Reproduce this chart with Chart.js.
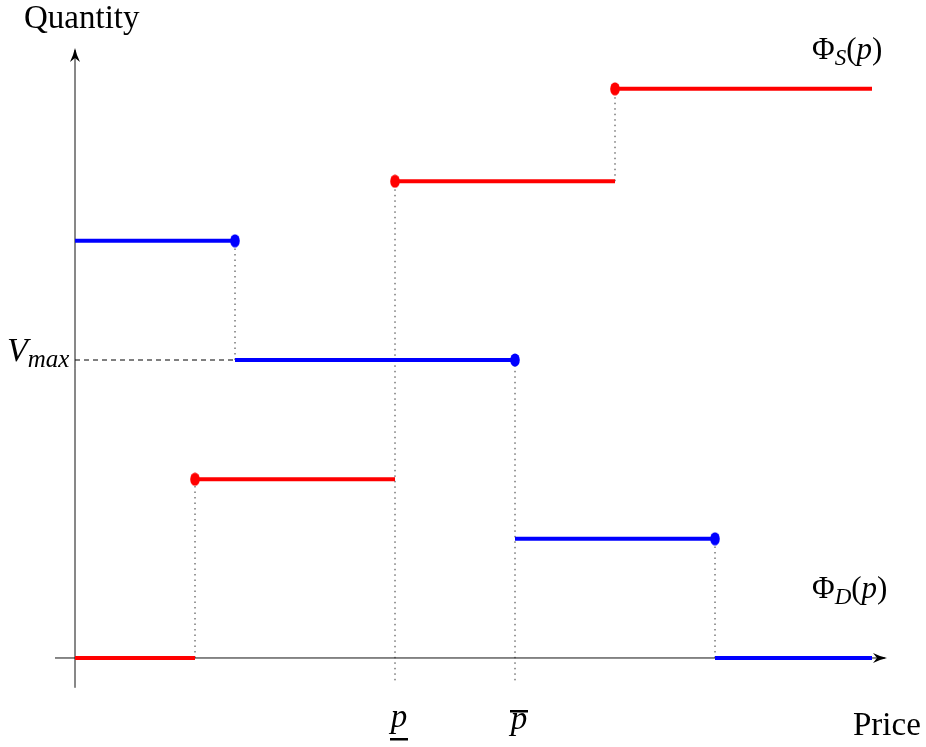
<!DOCTYPE html>
<html lang="en">
<head>
<meta charset="UTF-8">
<title>Supply and demand step functions</title>
<style>
  body { margin: 0; background: #fff; }
  #wrap { width: 926px; height: 747px; }
</style>
</head>
<body>
<div id="wrap"><canvas id="chart" width="926" height="747"></canvas></div>
<script src="https://cdn.jsdelivr.net/npm/chart.js"></script>
<script>
// supply Phi_S(p): breakpoints on the price axis and the quantity held on each step
const supplyPrices = [0, 6, 16, 27, 39.85];
const supplyQty = [0, 6, 16, 19.1];
// demand Phi_D(p)
const demandPrices = [0, 8, 22, 32, 39.85];
const demandQty = [14, 10, 4, 0];
// marked prices and V_max
const pLow = 16;
const pHigh = 22;
const vMax = 10;

const RED = '#ff0000';
const BLUE = '#0000ff';

const datasets = [];

// thin guide lines first so they lie under the steps
function guide(x0, y0, x1, y1, dash, color) {
  datasets.push({
    type: 'line', data: [{x: x0, y: y0}, {x: x1, y: y1}],
    borderColor: color, borderWidth: 1, borderDash: dash,
    pointRadius: 0, fill: false, tension: 0, order: 5
  });
}

// axes
guide(-1, 0, 40.5, 0, [], '#111');
guide(0, -1, 0, 20.4, [], '#111');

// dotted verticals at the supply jumps
for (let i = 1; i < supplyQty.length; i++) {
  const x = supplyPrices[i];
  let lo = supplyQty[i - 1];
  if (x === pLow) lo = -0.75;
  guide(x, lo, x, supplyQty[i], [1.5, 4], '#333');
}
// dotted verticals at the demand jumps
for (let i = 1; i < demandQty.length; i++) {
  const x = demandPrices[i];
  let lo = demandQty[i];
  if (x === pHigh) lo = -0.75;
  guide(x, lo, x, demandQty[i - 1], [1.5, 4], '#333');
}
// dashed V_max line
guide(0, vMax, demandPrices[1], vMax, [5, 4], '#000');

// step segments
function steps(prices, qty, color) {
  for (let i = 0; i < qty.length; i++) {
    datasets.push({
      type: 'line', data: [{x: prices[i], y: qty[i]}, {x: prices[i + 1], y: qty[i]}],
      borderColor: color, borderWidth: 4, pointRadius: 0, fill: false, order: 2
    });
  }
}
steps(supplyPrices, supplyQty, RED);
steps(demandPrices, demandQty, BLUE);

// dots: supply closed on the left end of each step, demand on the right end
const supplyDots = [];
for (let i = 1; i < supplyQty.length; i++) supplyDots.push({x: supplyPrices[i], y: supplyQty[i]});
const demandDots = [];
for (let i = 0; i < demandQty.length - 1; i++) demandDots.push({x: demandPrices[i + 1], y: demandQty[i]});

// the dots in the picture are slightly taller than wide
function ovalDot(color) {
  const c = document.createElement('canvas');
  c.width = 12; c.height = 14;
  const g = c.getContext('2d');
  g.fillStyle = color;
  g.beginPath();
  g.ellipse(6, 7, 4.8, 6.6, 0, 0, Math.PI * 2);
  g.fill();
  return c;
}

datasets.push({
  type: 'scatter', data: supplyDots, pointStyle: ovalDot(RED), order: 1
});
datasets.push({
  type: 'scatter', data: demandDots, pointStyle: ovalDot(BLUE), order: 1
});

const SERIF = '"Liberation Serif", "DejaVu Serif", serif';

function arrowHead(ctx, x, y, dir) {
  // LaTeX-like arrow tip, dir: 'right' or 'up'
  ctx.save();
  ctx.translate(x, y);
  if (dir === 'up') ctx.rotate(-Math.PI / 2);
  ctx.beginPath();
  ctx.moveTo(0, 0);
  ctx.quadraticCurveTo(-7, -1.5, -14, -5);
  ctx.lineTo(-10, 0);
  ctx.lineTo(-14, 5);
  ctx.quadraticCurveTo(-7, 1.5, 0, 0);
  ctx.closePath();
  ctx.fillStyle = '#000';
  ctx.fill();
  ctx.restore();
}

// draws a sequence of [text, style, size, dy] pieces from a start point
function pieces(ctx, x, y, parts) {
  let cx = x;
  for (const [t, style, size, dy] of parts) {
    ctx.font = style + ' ' + size + 'px ' + SERIF;
    ctx.fillText(t, cx, y + (dy || 0));
    cx += ctx.measureText(t).width;
  }
  return cx;
}

const decor = {
  id: 'decor',
  afterDatasetsDraw(chart) {
    const ctx = chart.ctx;
    const sx = chart.scales.x, sy = chart.scales.y;
    const x0 = sx.getPixelForValue(0), y0 = sy.getPixelForValue(0);

    arrowHead(ctx, sx.getPixelForValue(40.5) + 2, y0, 'right');
    arrowHead(ctx, x0, sy.getPixelForValue(20.4) - 2, 'up');

    ctx.save();
    ctx.fillStyle = '#000';
    ctx.textBaseline = 'alphabetic';
    ctx.textAlign = 'left';

    ctx.font = '33px ' + SERIF;
    ctx.fillText('Quantity', 24, 28);
    ctx.fillText('Price', 853, 735);

    // Phi_S(p)
    pieces(ctx, 812, 59, [['Φ', '', 31], ['S', 'italic', 23, 6], ['(', '', 31], ['p', 'italic', 31], [')', '', 31]]);
    // Phi_D(p)
    pieces(ctx, 812, 598, [['Φ', '', 31], ['D', 'italic', 23, 6], ['(', '', 31], ['p', 'italic', 31], [')', '', 31]]);

    // V_max
    const vy = sy.getPixelForValue(vMax);
    pieces(ctx, 7, vy + 1, [['V', 'italic', 34], ['max', 'italic', 25, 6]]);

    // p underline and p overline
    const pl = sx.getPixelForValue(pLow), ph = sx.getPixelForValue(pHigh);
    ctx.font = 'italic 33px ' + SERIF;
    ctx.textAlign = 'center';
    ctx.fillText('p', pl + 4, 727);
    ctx.fillText('p', ph + 4, 729);
    ctx.fillRect(pl - 5, 738, 18, 2.5);
    ctx.fillRect(ph - 5, 710, 18, 2.5);
    ctx.restore();
  }
};

new Chart(document.getElementById('chart'), {
  data: { datasets: datasets },
  options: {
    responsive: false,
    devicePixelRatio: 1,
    animation: false,
    events: [],
    layout: { padding: 0, autoPadding: false },
    plugins: { legend: { display: false }, tooltip: { enabled: false } },
    scales: {
      x: { type: 'linear', display: false, min: -3.75, max: 42.55 },
      y: { type: 'linear', display: false, min: -2.987, max: 22.081 }
    }
  },
  plugins: [decor]
});
</script>
</body>
</html>
